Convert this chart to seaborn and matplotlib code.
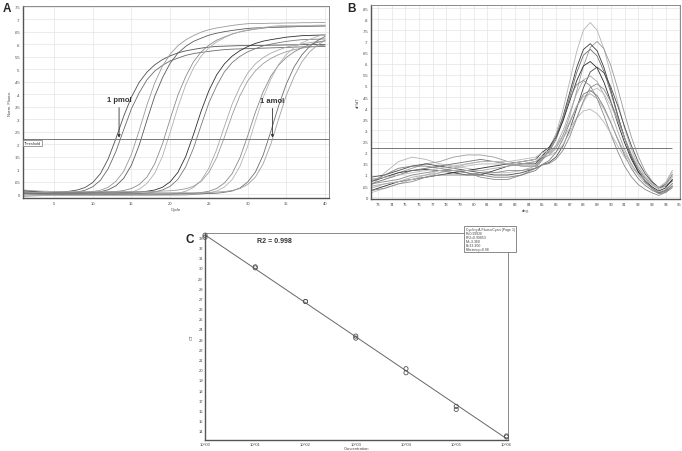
import matplotlib
matplotlib.use("Agg")
import matplotlib.pyplot as plt
from matplotlib.patches import Rectangle
from matplotlib.ticker import NullLocator
import seaborn as sns

# ---------------------------------------------------------------- panel A data
# normalised fluorescence per cycle, duplicates for each dilution
CYCLES = list(range(1, 41))
THRESHOLD = 0.22

fluo_1pmol_a = [0.012, 0.009, 0.007, 0.006, 0.007, 0.008, 0.011, 0.016, 0.026, 0.046,
                0.082, 0.141, 0.223, 0.312, 0.389, 0.448, 0.489, 0.518, 0.539, 0.554,
                0.566, 0.574, 0.580, 0.585, 0.589, 0.592, 0.593, 0.594, 0.595, 0.595,
                0.596, 0.596, 0.597, 0.597, 0.598, 0.598, 0.599, 0.599, 0.600, 0.600]
fluo_1pmol_b = [-0.004, -0.002, -0.001, 0.000, 0.001, 0.002, 0.004, 0.008, 0.015, 0.029,
                0.055, 0.102, 0.171, 0.258, 0.342, 0.406, 0.458, 0.493, 0.516, 0.534,
                0.545, 0.556, 0.563, 0.568, 0.572, 0.576, 0.579, 0.581, 0.582, 0.583,
                0.584, 0.585, 0.586, 0.587, 0.588, 0.589, 0.590, 0.590, 0.591, 0.592]
fluo_100fmol_a = [0.008, 0.006, 0.004, 0.003, 0.003, 0.003, 0.004, 0.005, 0.006, 0.010,
                  0.015, 0.027, 0.051, 0.091, 0.159, 0.255, 0.357, 0.445, 0.513, 0.561,
                  0.595, 0.618, 0.635, 0.649, 0.659, 0.666, 0.671, 0.676, 0.680, 0.683,
                  0.684, 0.684, 0.685, 0.685, 0.686, 0.686, 0.687, 0.687, 0.688, 0.688]
fluo_100fmol_b = [0.002, 0.001, 0.000, 0.000, 0.000, 0.000, 0.000, 0.001, 0.003, 0.005,
                  0.009, 0.017, 0.033, 0.063, 0.116, 0.196, 0.296, 0.392, 0.466, 0.525,
                  0.565, 0.592, 0.612, 0.625, 0.637, 0.645, 0.651, 0.656, 0.660, 0.664,
                  0.666, 0.667, 0.668, 0.669, 0.670, 0.671, 0.672, 0.673, 0.674, 0.675]
fluo_10fmol_a = [0.010, 0.008, 0.006, 0.005, 0.005, 0.005, 0.005, 0.005, 0.005, 0.005,
                 0.006, 0.008, 0.010, 0.014, 0.022, 0.038, 0.068, 0.121, 0.201, 0.301,
                 0.397, 0.471, 0.530, 0.570, 0.597, 0.617, 0.630, 0.642, 0.650, 0.656,
                 0.661, 0.665, 0.669, 0.670, 0.671, 0.671, 0.672, 0.672, 0.673, 0.673]
fluo_10fmol_b = [-0.008, -0.007, -0.006, -0.005, -0.005, -0.005, -0.005, -0.005, -0.005, -0.005,
                 -0.004, -0.003, -0.002, 0.002, 0.007, 0.019, 0.043, 0.083, 0.151, 0.247,
                 0.349, 0.437, 0.505, 0.553, 0.587, 0.610, 0.627, 0.641, 0.651, 0.658,
                 0.663, 0.668, 0.672, 0.675, 0.675, 0.675, 0.676, 0.676, 0.677, 0.677]
fluo_1fmol_a = [0.014, 0.011, 0.009, 0.007, 0.006, 0.005, 0.005, 0.005, 0.005, 0.005,
                0.005, 0.005, 0.005, 0.006, 0.007, 0.008, 0.011, 0.016, 0.027, 0.049,
                0.087, 0.150, 0.238, 0.333, 0.415, 0.478, 0.522, 0.553, 0.575, 0.591,
                0.604, 0.613, 0.619, 0.624, 0.629, 0.632, 0.635, 0.636, 0.637, 0.638]
fluo_1fmol_b = [0.003, 0.002, 0.001, 0.000, 0.000, 0.000, 0.000, 0.000, 0.000, 0.000,
                0.000, 0.000, 0.000, 0.000, 0.001, 0.002, 0.004, 0.008, 0.016, 0.031,
                0.059, 0.109, 0.183, 0.276, 0.366, 0.434, 0.490, 0.527, 0.552, 0.570,
                0.583, 0.594, 0.601, 0.607, 0.612, 0.616, 0.619, 0.620, 0.621, 0.622]
fluo_100amol_a = [-0.010, -0.008, -0.007, -0.006, -0.005, -0.005, -0.005, -0.005, -0.005, -0.005,
                  -0.005, -0.005, -0.005, -0.005, -0.005, -0.005, -0.005, -0.004, -0.003, -0.001,
                  0.003, 0.011, 0.026, 0.054, 0.104, 0.178, 0.271, 0.361, 0.429, 0.485,
                  0.522, 0.547, 0.565, 0.578, 0.589, 0.596, 0.602, 0.607, 0.611, 0.614]
fluo_100amol_b = [0.016, 0.014, 0.012, 0.011, 0.010, 0.010, 0.010, 0.010, 0.010, 0.010,
                  0.010, 0.010, 0.010, 0.010, 0.010, 0.010, 0.010, 0.010, 0.012, 0.013,
                  0.016, 0.021, 0.031, 0.051, 0.087, 0.146, 0.228, 0.317, 0.394, 0.453,
                  0.494, 0.523, 0.544, 0.559, 0.571, 0.579, 0.585, 0.590, 0.594, 0.597]
fluo_10amol_a = [0.006, 0.004, 0.002, 0.001, 0.000, 0.000, 0.000, 0.000, 0.000, 0.000,
                 0.000, 0.000, 0.000, 0.000, 0.000, 0.000, 0.000, 0.000, 0.000, 0.000,
                 0.001, 0.002, 0.003, 0.006, 0.011, 0.022, 0.044, 0.082, 0.145, 0.233,
                 0.328, 0.410, 0.473, 0.517, 0.548, 0.570, 0.586, 0.599, 0.608, 0.614]
fluo_10amol_b = [-0.002, -0.003, -0.004, -0.005, -0.005, -0.005, -0.005, -0.005, -0.005, -0.005,
                 -0.005, -0.005, -0.005, -0.005, -0.005, -0.005, -0.005, -0.005, -0.005, -0.005,
                 -0.005, -0.004, -0.002, 0.000, 0.004, 0.012, 0.028, 0.058, 0.111, 0.191,
                 0.291, 0.387, 0.461, 0.520, 0.560, 0.587, 0.607, 0.620, 0.632, 0.640]
fluo_1amol_a = [0.004, 0.003, 0.002, 0.001, 0.000, 0.000, 0.000, 0.000, 0.000, 0.000,
                0.000, 0.000, 0.000, 0.000, 0.000, 0.000, 0.000, 0.000, 0.000, 0.000,
                0.000, 0.000, 0.000, 0.001, 0.002, 0.003, 0.007, 0.012, 0.024, 0.048,
                0.088, 0.156, 0.252, 0.354, 0.442, 0.510, 0.558, 0.592, 0.615, 0.632]
fluo_1amol_b = [0.009, 0.008, 0.007, 0.006, 0.005, 0.005, 0.005, 0.005, 0.005, 0.005,
                0.005, 0.005, 0.005, 0.005, 0.005, 0.005, 0.005, 0.005, 0.005, 0.005,
                0.005, 0.005, 0.005, 0.005, 0.006, 0.008, 0.010, 0.014, 0.022, 0.038,
                0.068, 0.121, 0.201, 0.301, 0.397, 0.471, 0.530, 0.570, 0.597, 0.617]

AMP_CURVES = [fluo_1pmol_a, fluo_1pmol_b, fluo_100fmol_a, fluo_100fmol_b,
              fluo_10fmol_a, fluo_10fmol_b, fluo_1fmol_a, fluo_1fmol_b,
              fluo_100amol_a, fluo_100amol_b, fluo_10amol_a, fluo_10amol_b,
              fluo_1amol_a, fluo_1amol_b]
AMP_GREYS = ["#505050", "#6a6a6a", "#9a9a9a", "#5a5a5a", "#8c8c8c", "#b0b0b0",
             "#2e2e2e", "#7a7a7a", "#a8a8a8", "#9c9c9c", "#888888", "#b4b4b4",
             "#6e6e6e", "#a0a0a0"]
A_YTICKS = [0, 0.05, 0.1, 0.15, 0.2, 0.25, 0.3, 0.35, 0.4, 0.45, 0.5, 0.55, 0.6, 0.65, 0.7, 0.75]
A_XTICKS = [5, 10, 15, 20, 25, 30, 35, 40]

# ---------------------------------------------------------------- panel B data
# melt curve derivative (dF/dT) against temperature
TEMPS = [72.5, 73.5, 74.5, 75.5, 76.5, 77.5, 78.5, 79.5, 80.5, 81.5, 82.5, 83.5, 84.5,
         85.0, 85.5, 86.0, 86.5, 87.0, 87.5, 88.0, 88.5, 89.0, 89.5, 90.0, 90.5, 91.0,
         91.5, 92.0, 92.5, 93.0, 93.5, 94.0, 94.5]

melt_1 = [0.05, 0.11, 0.16, 0.18, 0.17, 0.15, 0.14, 0.13, 0.12, 0.11, 0.11, 0.12, 0.14,
          0.182, 0.219, 0.286, 0.390, 0.521, 0.652, 0.751, 0.785, 0.751, 0.667, 0.553, 0.428,
          0.311, 0.215, 0.143, 0.094, 0.062, 0.042, 0.056, 0.092]
melt_2 = [0.08, 0.09, 0.11, 0.13, 0.15, 0.16, 0.18, 0.19, 0.19, 0.18, 0.16, 0.15, 0.16,
          0.178, 0.189, 0.219, 0.276, 0.364, 0.475, 0.589, 0.673, 0.700, 0.667, 0.592, 0.489,
          0.377, 0.271, 0.185, 0.118, 0.073, 0.042, 0.048, 0.074]
melt_3 = [0.07, 0.09, 0.11, 0.12, 0.125, 0.12, 0.11, 0.10, 0.10, 0.12, 0.14, 0.15, 0.15,
          0.187, 0.216, 0.272, 0.360, 0.470, 0.581, 0.664, 0.690, 0.658, 0.583, 0.482, 0.370,
          0.267, 0.181, 0.116, 0.070, 0.041, 0.020, 0.032, 0.062]
melt_4 = [0.06, 0.08, 0.10, 0.12, 0.13, 0.14, 0.15, 0.16, 0.17, 0.16, 0.15, 0.14, 0.14,
          0.176, 0.205, 0.259, 0.344, 0.450, 0.558, 0.638, 0.665, 0.635, 0.565, 0.470, 0.366,
          0.268, 0.187, 0.127, 0.085, 0.058, 0.040, 0.059, 0.102]
melt_5 = [0.03, 0.05, 0.07, 0.08, 0.09, 0.10, 0.11, 0.12, 0.13, 0.14, 0.15, 0.16, 0.17,
          0.202, 0.225, 0.270, 0.341, 0.432, 0.522, 0.590, 0.610, 0.581, 0.517, 0.430, 0.334,
          0.246, 0.171, 0.114, 0.074, 0.047, 0.028, 0.042, 0.081]
melt_6 = [0.09, 0.10, 0.12, 0.14, 0.15, 0.14, 0.13, 0.12, 0.11, 0.10, 0.10, 0.11, 0.13,
          0.146, 0.156, 0.181, 0.229, 0.303, 0.397, 0.492, 0.563, 0.585, 0.559, 0.496, 0.412,
          0.318, 0.232, 0.159, 0.106, 0.069, 0.044, 0.050, 0.074]
melt_7 = [0.04, 0.06, 0.07, 0.08, 0.09, 0.11, 0.13, 0.15, 0.16, 0.16, 0.15, 0.14, 0.14,
          0.170, 0.191, 0.233, 0.297, 0.380, 0.465, 0.527, 0.545, 0.520, 0.461, 0.384, 0.297,
          0.216, 0.150, 0.099, 0.063, 0.040, 0.023, 0.034, 0.061]
melt_8 = [0.06, 0.07, 0.08, 0.10, 0.11, 0.12, 0.12, 0.11, 0.09, 0.08, 0.08, 0.10, 0.13,
          0.168, 0.210, 0.275, 0.359, 0.443, 0.506, 0.525, 0.501, 0.444, 0.368, 0.283, 0.206,
          0.140, 0.092, 0.057, 0.035, 0.020, 0.008, 0.022, 0.050]
melt_9 = [0.02, 0.04, 0.06, 0.08, 0.10, 0.12, 0.13, 0.14, 0.15, 0.15, 0.15, 0.16, 0.17,
          0.184, 0.187, 0.203, 0.236, 0.289, 0.356, 0.426, 0.476, 0.490, 0.465, 0.413, 0.344,
          0.268, 0.196, 0.136, 0.090, 0.057, 0.034, 0.052, 0.093]
melt_10 = [0.07, 0.10, 0.13, 0.14, 0.14, 0.13, 0.12, 0.11, 0.10, 0.09, 0.09, 0.10, 0.12,
           0.147, 0.165, 0.202, 0.260, 0.334, 0.408, 0.463, 0.480, 0.457, 0.405, 0.336, 0.260,
           0.189, 0.129, 0.084, 0.053, 0.032, 0.017, 0.027, 0.051]
melt_11 = [0.05, 0.06, 0.07, 0.09, 0.10, 0.11, 0.12, 0.12, 0.12, 0.13, 0.14, 0.15, 0.16,
           0.184, 0.199, 0.230, 0.279, 0.341, 0.407, 0.452, 0.465, 0.444, 0.397, 0.334, 0.265,
           0.200, 0.147, 0.106, 0.076, 0.056, 0.041, 0.066, 0.121]
melt_12 = [0.08, 0.09, 0.10, 0.11, 0.12, 0.13, 0.14, 0.15, 0.16, 0.16, 0.16, 0.17, 0.18,
           0.200, 0.208, 0.229, 0.264, 0.309, 0.355, 0.388, 0.395, 0.376, 0.337, 0.287, 0.231,
           0.180, 0.136, 0.102, 0.077, 0.059, 0.045, 0.066, 0.111]
melt_13 = [0.03, 0.04, 0.06, 0.07, 0.09, 0.10, 0.10, 0.10, 0.11, 0.11, 0.12, 0.12, 0.13,
           0.145, 0.151, 0.171, 0.210, 0.272, 0.352, 0.433, 0.493, 0.510, 0.485, 0.429, 0.352,
           0.268, 0.190, 0.125, 0.075, 0.040, 0.016, 0.021, 0.043]

MELT_CURVES = [melt_1, melt_2, melt_3, melt_4, melt_5, melt_6, melt_7,
               melt_8, melt_9, melt_10, melt_11, melt_12, melt_13]
MELT_GREYS = ["#b4b4b4", "#9a9a9a", "#3a3a3a", "#707070", "#2a2a2a", "#4a4a4a", "#a8a8a8",
              "#888888", "#bcbcbc", "#7a7a7a", "#acacac", "#b8b8b8", "#8a8a8a"]
B_YTICKS = [0, 0.05, 0.1, 0.15, 0.2, 0.25, 0.3, 0.35, 0.4, 0.45, 0.5, 0.55, 0.6, 0.65,
            0.7, 0.75, 0.8, 0.85]
B_XTICKS = list(range(73, 96))

# ---------------------------------------------------------------- panel C data
CONC = [1, 1, 10, 10, 100, 100, 1e3, 1e3, 1e4, 1e4, 1e5, 1e5, 1e6, 1e6]
CT = [33.2, 33.0, 30.1, 30.0, 26.7, 26.7, 23.3, 23.1, 20.1, 19.7, 16.4, 16.1, 13.5, 13.4]
C_XTICKS = [1, 10, 100, 1e3, 1e4, 1e5, 1e6]
C_XLABELS = ["10^00", "10^01", "10^02", "10^03", "10^04", "10^05", "10^06"]
C_YTICKS = list(range(14, 34))
FIT_LINES = ["Cycling A.Fluoro/Cyan (Page 1)", "R=0.99926", "R^2=0.99853",
             "M=-3.360", "B=33.300", "Efficiency=0.98"]

# ---------------------------------------------------------------- figure
sns.set_style("white")
plt.rcParams["font.family"] = ["Liberation Sans", "DejaVu Sans"]

W, H = 682, 452
fig = plt.figure(figsize=(W / 100, H / 100), dpi=100)


def box(left, top, right, bottom):
    return [left / W, 1 - bottom / H, (right - left) / W, (bottom - top) / H]


def dec_label(v):
    return "0" if v == 0 else f"{v:.2f}".rstrip("0").lstrip("0")


def frame(ax, pad=2):
    for side in ("left", "bottom"):
        ax.spines[side].set_color("#555555")
        ax.spines[side].set_linewidth(1.0)
    for side in ("top", "right"):
        ax.spines[side].set_color("#8a8a8a")
        ax.spines[side].set_linewidth(0.7)
    ax.tick_params(length=0, pad=pad, labelsize=3, labelcolor="#444444")


# A: amplification curves
axA = fig.add_axes(box(23, 7, 329, 199))
for ys, c in zip(AMP_CURVES, AMP_GREYS):
    sns.lineplot(x=CYCLES, y=ys, ax=axA, color=c, lw=0.6)
axA.axhline(THRESHOLD, color="#777777", lw=0.7)
axA.set_xlim(1, 40.5)
axA.set_ylim(-0.016, 0.754)
axA.set_xticks(A_XTICKS)
axA.set_yticks(A_YTICKS)
axA.set_yticklabels([dec_label(v) for v in A_YTICKS])
axA.grid(True, color="#e4e4e4", lw=0.5)
axA.set_xlabel("Cycle", fontsize=3, labelpad=1.5, color="#444444")
axA.set_ylabel("Norm. Fluoro.", fontsize=3, labelpad=2, color="#444444")
frame(axA)
axA.text(1.15, 0.205, "Threshold", fontsize=2.8, va="center", ha="left", color="#333333",
         bbox=dict(boxstyle="square,pad=0.25", fc="white", ec="#777777", lw=0.5))
arrow = dict(arrowstyle="-|>", color="#333333", lw=0.6, mutation_scale=4,
             shrinkA=1, shrinkB=0)
axA.annotate("1 pmol", xy=(13.4, 0.226), xytext=(13.4, 0.365), ha="center", va="bottom",
             fontsize=5.5, fontweight="bold", color="#333333", arrowprops=arrow)
axA.annotate("1 amol", xy=(33.2, 0.226), xytext=(33.2, 0.362), ha="center", va="bottom",
             fontsize=5.5, fontweight="bold", color="#333333", arrowprops=arrow)

# B: melt curves
axB = fig.add_axes(box(371, 6, 680, 200))
for ys, c in zip(MELT_CURVES, MELT_GREYS):
    sns.lineplot(x=TEMPS, y=ys, ax=axB, color=c, lw=0.6)
axB.hlines(THRESHOLD, 72.5, 94.5, color="#777777", lw=0.7)
axB.set_xlim(72.5, 95.05)
axB.set_ylim(-0.008, 0.864)
axB.set_xticks(B_XTICKS)
axB.set_yticks(B_YTICKS)
axB.set_yticklabels([dec_label(v) for v in B_YTICKS])
axB.grid(True, color="#e4e4e4", lw=0.5)
axB.set_xlabel("deg.", fontsize=3, labelpad=1.5, color="#444444")
axB.set_ylabel("dF/dT", fontsize=3, labelpad=2, color="#444444")
frame(axB)

# C: standard curve
axC = fig.add_axes(box(205, 234, 508, 441))
sns.regplot(x=CONC, y=CT, ax=axC, logx=True, scatter=False, ci=None,
            color="#666666", line_kws={"lw": 0.7})
sns.scatterplot(x=CONC, y=CT, ax=axC, marker="o", s=9, facecolors="none",
                edgecolors="#555555", linewidth=0.6, clip_on=False, zorder=4)
axC.set_xscale("log")
axC.set_xlim(1, 10 ** 6.03)
axC.set_ylim(13.1, 33.42)
axC.set_xticks(C_XTICKS)
axC.set_xticklabels(C_XLABELS)
axC.xaxis.set_minor_locator(NullLocator())
axC.set_yticks(C_YTICKS)
axC.set_xlabel("Concentration", fontsize=3, labelpad=0.3, color="#444444")
axC.set_ylabel("CT", fontsize=3, labelpad=3, color="#444444")
frame(axC, pad=1.5)
axC.text(0.23, 0.963, "R2 = 0.998", transform=axC.transAxes, ha="center", va="center",
         fontsize=5, fontweight="bold", color="#333333")

# fit summary box over the top-right corner of C
fig.patches.append(Rectangle((464 / W, 1 - 253 / H), 52 / W, 26 / H, transform=fig.transFigure,
                             facecolor="white", edgecolor="#777777", lw=0.6, zorder=5))
for i, line in enumerate(FIT_LINES):
    fig.text(466 / W, 1 - (230.5 + i * 4.0) / H, line, fontsize=2.5, color="#444444",
             ha="left", va="center", zorder=6)

# panel letters
fig.text(3 / W, 1 - 3 / H, "A", fontsize=8.5, fontweight="bold", va="top", ha="left")
fig.text(347 / W, 1 - 3 / H, "B", fontsize=8.5, fontweight="bold", va="top", ha="left")
fig.text(185 / W, 1 - 234 / H, "C", fontsize=8.5, fontweight="bold", va="top", ha="left")

fig.savefig("out.png", dpi=100, facecolor="white")
